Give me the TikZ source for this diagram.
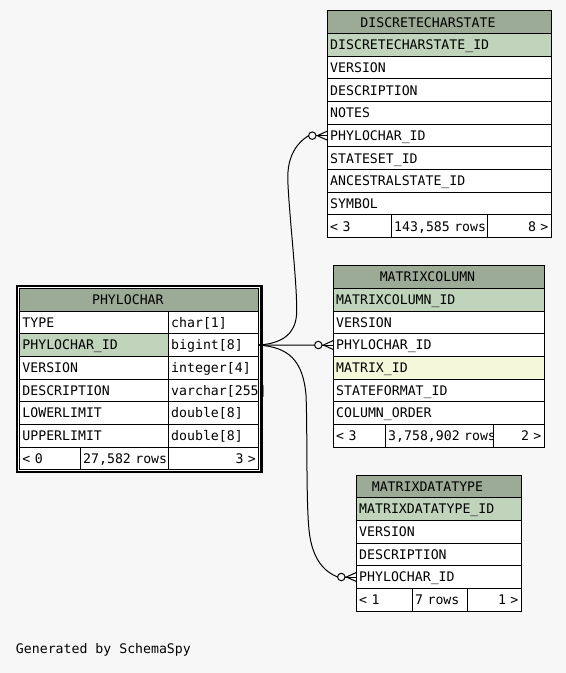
\documentclass[tikz,border=0pt]{standalone}
\usepackage{fontspec}
\setmonofont{DejaVu Sans Mono}
\usetikzlibrary{calc}
\definecolor{paper}{HTML}{F7F7F7}
\definecolor{headgreen}{HTML}{9BAB96}
\definecolor{keygreen}{HTML}{BFD4BB}
\definecolor{idxyellow}{HTML}{F4F7DA}
\newcommand\schemafont{\ttfamily\fontsize{9.9pt}{12pt}\selectfont}

\begin{document}
\begin{tikzpicture}[x=0.75pt, y=-0.75pt, line width=0.75pt,
  cell/.style={draw, fill=white, anchor=north west, outer sep=0pt, inner xsep=2.2pt, inner ysep=0pt,
    minimum height=17pt, text height=7.2pt, text depth=0pt, text width=#1, align=left, font=\schemafont},
  head/.style={draw, fill=headgreen, anchor=north west, outer sep=0pt, inner sep=0pt,
    minimum height=17pt, minimum width=#1, text height=7.2pt, text depth=0pt, font=\schemafont,
    execute at begin node=\hspace*{-17pt}},
  key/.style={fill=keygreen},
  idx/.style={fill=idxyellow}]
  \fill[paper] (0,0) rectangle (566,673);
  \useasboundingbox (0,0) rectangle (566,673);

  % PHYLOCHAR
  \draw[white] (18.5,287.6) rectangle (259.8,470.6);
  \draw[line width=1.8pt] (17,286) rectangle (261.3,472);
  \node[head=179.5pt] (pc-head) at (19.5,288.5) {PHYLOCHAR};
  \node[cell=107.2pt] (pc-type) at (19.5,311.17) {TYPE};
  \node[cell=63.5pt] (pc-typetype) at (168.3,311.17) {char[1]};
  \node[cell=107.2pt, key] (pc-id) at (19.5,333.83) {PHYLOCHAR\_ID};
  \node[cell=63.5pt] (pc-idtype) at (168.3,333.83) {bigint[8]};
  \node[cell=107.2pt] (pc-version) at (19.5,356.5) {VERSION};
  \node[cell=63.5pt] (pc-versiontype) at (168.3,356.5) {integer[4]};
  \node[cell=107.2pt] (pc-desc) at (19.5,379.17) {DESCRIPTION};
  \node[cell=63.5pt] (pc-desctype) at (168.3,379.17) {varchar[255]};
  \node[cell=107.2pt] (pc-lower) at (19.5,401.83) {LOWERLIMIT};
  \node[cell=63.5pt] (pc-lowertype) at (168.3,401.83) {double[8]};
  \node[cell=107.2pt] (pc-upper) at (19.5,424.5) {UPPERLIMIT};
  \node[cell=63.5pt] (pc-uppertype) at (168.3,424.5) {double[8]};
  \node[cell=41.2pt] (pc-prev) at (19.5,447.17) {< 0};
  \begin{scope}
    \clip (78.8,446) rectangle (168.3,471);
    \node[cell=61.6pt] (pc-rows) at (80.3,447.17) {27,582~rows};
  \end{scope}
  \node[cell=63.5pt, align=right] (pc-next) at (168.3,447.17) {3 >};

  % DISCRETECHARSTATE
  \node[head=168pt] (dcs-head) at (327.3,11) {DISCRETECHARSTATE};
  \node[cell=163.6pt, key] (dcs-id) at (327.3,33.67) {DISCRETECHARSTATE\_ID};
  \node[cell=163.6pt] (dcs-version) at (327.3,56.33) {VERSION};
  \node[cell=163.6pt] (dcs-desc) at (327.3,79) {DESCRIPTION};
  \node[cell=163.6pt] (dcs-notes) at (327.3,101.67) {NOTES};
  \node[cell=163.6pt] (dcs-phylo) at (327.3,124.33) {PHYLOCHAR\_ID};
  \node[cell=163.6pt] (dcs-stateset) at (327.3,147) {STATESET\_ID};
  \node[cell=163.6pt] (dcs-ancestral) at (327.3,169.67) {ANCESTRALSTATE\_ID};
  \node[cell=163.6pt] (dcs-symbol) at (327.3,192.33) {SYMBOL};
  \node[cell=43.6pt] (dcs-prev) at (327.3,215) {< 3};
  \begin{scope}
    \clip (389.8,214) rectangle (487.7,239);
    \node[cell=67.9pt] (dcs-rows) at (391.3,215) {143,585~rows};
  \end{scope}
  \node[cell=43.3pt, align=right] (dcs-next) at (487.7,215) {8 >};

  % MATRIXCOLUMN
  \node[head=158.25pt] (mc-head) at (333.3,265.7) {MATRIXCOLUMN};
  \node[cell=153.85pt, key] (mc-id) at (333.3,288.37) {MATRIXCOLUMN\_ID};
  \node[cell=153.85pt] (mc-version) at (333.3,311.03) {VERSION};
  \node[cell=153.85pt] (mc-phylo) at (333.3,333.7) {PHYLOCHAR\_ID};
  \node[cell=153.85pt, idx] (mc-matrix) at (333.3,356.37) {MATRIX\_ID};
  \node[cell=153.85pt] (mc-format) at (333.3,379.03) {STATEFORMAT\_ID};
  \node[cell=153.85pt] (mc-order) at (333.3,401.7) {COLUMN\_ORDER};
  \node[cell=34.6pt] (mc-prev) at (333.3,424.37) {< 3};
  \begin{scope}
    \clip (383.8,423) rectangle (493.3,448.5);
    \node[cell=76.6pt] (mc-rows) at (385.3,424.37) {3,758,902~rows};
  \end{scope}
  \node[cell=33.85pt, align=right] (mc-next) at (493.3,424.37) {2 >};

  % MATRIXDATATYPE
  \node[head=123.75pt] (mdt-head) at (356.3,475) {MATRIXDATATYPE};
  \node[cell=119.35pt, key] (mdt-id) at (356.3,497.67) {MATRIXDATATYPE\_ID};
  \node[cell=119.35pt] (mdt-version) at (356.3,520.33) {VERSION};
  \node[cell=119.35pt] (mdt-desc) at (356.3,543) {DESCRIPTION};
  \node[cell=119.35pt] (mdt-phylo) at (356.3,565.67) {PHYLOCHAR\_ID};
  \node[cell=37.6pt] (mdt-prev) at (356.3,588.33) {< 1};
  \node[cell=36.85pt] (mdt-rows) at (412.3,588.33) {7 rows};
  \node[cell=36.1pt, align=right] (mdt-next) at (467.3,588.33) {1 >};

  % links
  \draw (pc-idtype.east) .. controls (284,343) and (295,333) .. (296.5,315)
    .. controls (298,290) and (289,215) .. (287.8,180)
    .. controls (287,155) and (298,142) .. ($(dcs-phylo.west)+(-18.7,0)$);
  \draw (pc-idtype.east) -- ($(mc-phylo.west)+(-18.7,0)$);
  \draw (pc-idtype.east) .. controls (288,347) and (303,360) .. (306,395)
    .. controls (307.5,430) and (306,500) .. (309,530)
    .. controls (312,560) and (325,572) .. ($(mdt-phylo.west)+(-18.7,0)$);
  \draw[line width=1.5pt] (pc-idtype.east) -- ++(6.5,0);
  \draw (dcs-phylo.west) ++(-15,0) circle[radius=2.8pt];
  \draw (dcs-phylo.west) ++(-11.3,0) -- (dcs-phylo.west);
  \draw (dcs-phylo.west) ++(0,-4.5) -- ++(-10,4.5) -- ++(10,4.5);
  \draw (mc-phylo.west) ++(-15,0) circle[radius=2.8pt];
  \draw (mc-phylo.west) ++(-11.3,0) -- (mc-phylo.west);
  \draw (mc-phylo.west) ++(0,-4.5) -- ++(-10,4.5) -- ++(10,4.5);
  \draw (mdt-phylo.west) ++(-15,0) circle[radius=2.8pt];
  \draw (mdt-phylo.west) ++(-11.3,0) -- (mdt-phylo.west);
  \draw (mdt-phylo.west) ++(0,-4.5) -- ++(-10,4.5) -- ++(10,4.5);

  \node[anchor=west, inner sep=0pt, text height=7.2pt, text depth=0pt, font=\schemafont] (credit) at (15.5,649) {Generated by SchemaSpy};
\end{tikzpicture}
\end{document}
